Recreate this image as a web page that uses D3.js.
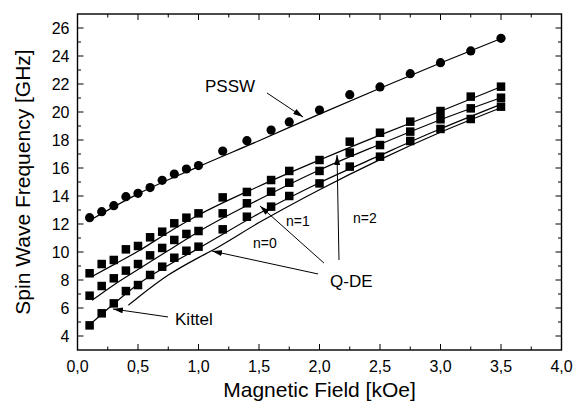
<!DOCTYPE html>
<html>
<head>
<meta charset="utf-8">
<script src="https://cdn.jsdelivr.net/npm/d3@7"></script>
<style>
  html, body { margin: 0; padding: 0; background: #fff; }
  svg text { font-family: "Liberation Sans", Arial, Helvetica, sans-serif; fill: #000; }
</style>
</head>
<body>
<svg id="chart" width="585" height="403"></svg>
<script>
// measured points (field in kOe, frequency in GHz)
const fields = [0.1, 0.2, 0.3, 0.4, 0.5, 0.6, 0.7, 0.8, 0.9, 1.0, 1.2, 1.4, 1.6, 1.75, 2.0, 2.25, 2.5, 2.75, 3.0, 3.25, 3.5];
const psswPts = [12.45, 12.88, 13.31, 13.95, 14.19, 14.6, 15.12, 15.57, 15.93, 16.17, 17.21, 17.95, 18.71, 19.29, 20.14, 21.24, 21.79, 22.74, 23.52, 24.36, 25.26];
const sqTop = [8.48, 9.14, 9.43, 10.19, 10.43, 11.05, 11.45, 12.05, 12.45, 12.76, 13.9, 14.29, 15.14, 15.79, 16.57, 17.88, 18.52, 19.31, 20.07, 21.1, 21.81];
const sqMid = [6.88, 7.57, 8.12, 8.67, 9.14, 9.76, 10.29, 10.86, 11.29, 11.5, 12.76, 13.48, 14.31, 14.95, 15.79, 17.1, 17.64, 18.6, 19.48, 20.26, 21.02];
const sqLow = [4.76, 5.62, 6.33, 7.21, 7.64, 8.36, 8.95, 9.59, 10.09, 10.38, 11.62, 12.52, 13.24, 14.0, 14.9, 16.1, 16.81, 17.93, 18.79, 19.5, 20.38];

// fitted curves as [field, GHz]
const fitPssw = [[0.1, 12.25], [0.5, 14.15], [1.0, 16.1], [1.5, 17.95], [2.0, 19.85], [2.5, 21.7], [3.0, 23.5], [3.5, 25.25]];
const fitN2 = [[0.12, 8.25], [0.3, 9.1], [0.5, 10.05], [0.75, 11.4], [1.0, 12.64], [1.5, 14.7], [2.0, 16.57], [2.5, 18.35], [3.0, 20.05], [3.5, 21.8]];
const fitN1 = [[0.12, 6.55], [0.3, 7.65], [0.5, 8.75], [0.75, 10.1], [1.0, 11.45], [1.5, 13.75], [2.0, 15.86], [2.5, 17.7], [3.0, 19.45], [3.5, 21.02]];
const fitKittel = [[0.1, 4.8], [0.2, 5.55], [0.3, 6.3], [0.5, 7.7], [0.75, 9.05], [1.0, 10.26], [1.5, 12.75], [2.0, 14.95], [2.5, 16.9], [3.0, 18.8], [3.5, 20.55]];
const fitN0 = [[0.42, 6.2], [0.5, 6.75], [0.75, 8.35], [1.0, 9.6], [1.1, 10.05], [1.5, 12.1], [2.0, 14.45], [2.5, 16.6], [3.0, 18.55], [3.5, 20.3]];

const xTicks = [0, 0.5, 1, 1.5, 2, 2.5, 3, 3.5, 4];
const yTicks = [4, 6, 8, 10, 12, 14, 16, 18, 20, 22, 24, 26];

// labels and arrows, in data coordinates
const labels = [
  { t: "PSSW", x: 1.054, y: 21.43, size: 17 },
  { t: "Kittel", x: 0.806, y: 4.79, size: 17 },
  { t: "Q-DE", x: 2.087, y: 7.5, size: 17 },
  { t: "n=0", x: 1.45, y: 10.29, size: 14 },
  { t: "n=1", x: 1.723, y: 11.86, size: 14 },
  { t: "n=2", x: 2.277, y: 12.07, size: 14 }
];
const arrows = [
  [[1.566, 21.36], [1.864, 19.64]],
  [[0.748, 5.36], [0.293, 5.93]],
  [[1.988, 8.43], [1.112, 10.07]],
  [[2.037, 9.21], [1.508, 13.29]],
  [[2.161, 9.43], [2.145, 16.93]]
];

const svg = d3.select("#chart");
const M = { top: 14, right: 23.5, bottom: 53, left: 77.5 };
const W = 585, H = 403;
const x = d3.scaleLinear().domain([0, 4]).range([M.left, W - M.right]);
const y = d3.scaleLinear().domain([3, 27]).range([H - M.bottom, M.top]);

const defs = svg.append("defs");
defs.append("marker").attr("id", "head").attr("viewBox", "0 0 10 6")
  .attr("refX", 10).attr("refY", 3).attr("markerWidth", 10).attr("markerHeight", 6)
  .attr("markerUnits", "userSpaceOnUse").attr("orient", "auto")
  .append("path").attr("d", "M0,0 L10,3 L0,6 Z").attr("fill", "#000");

// ticks, all pointing inward
const g = svg.append("g");
const minorX = d3.range(0.25, 4, 0.5);
const minorY = d3.range(5, 27, 2);
const MAJ = 6, MIN = 3.5;
function vTicks(vals, len) {
  vals.forEach(v => {
    g.append("line").attr("x1", x(v)).attr("x2", x(v)).attr("y1", y(3)).attr("y2", y(3) - len).attr("stroke", "#000");
    g.append("line").attr("x1", x(v)).attr("x2", x(v)).attr("y1", y(27)).attr("y2", y(27) + len).attr("stroke", "#000");
  });
}
function hTicks(vals, len) {
  vals.forEach(v => {
    g.append("line").attr("y1", y(v)).attr("y2", y(v)).attr("x1", x(0)).attr("x2", x(0) + len).attr("stroke", "#000");
    g.append("line").attr("y1", y(v)).attr("y2", y(v)).attr("x1", x(4)).attr("x2", x(4) - len).attr("stroke", "#000");
  });
}
vTicks(xTicks, MAJ); vTicks(minorX, MIN);
hTicks(yTicks, MAJ); hTicks(minorY, MIN);

g.append("rect").attr("x", x(0)).attr("y", y(27)).attr("width", x(4) - x(0)).attr("height", y(3) - y(27))
  .attr("fill", "none").attr("stroke", "#000").attr("stroke-width", 1.4);

const fmt = d3.format(".1f");
g.selectAll(".xl").data(xTicks).join("text").attr("class", "xl")
  .attr("x", d => x(d)).attr("y", 372).attr("text-anchor", "middle").style("font-size", "16px")
  .text(d => fmt(d).replace(".", ","));
g.selectAll(".yl").data(yTicks).join("text").attr("class", "yl")
  .attr("x", 69.5).attr("y", d => y(d) + 5.6).attr("text-anchor", "end").style("font-size", "16px")
  .text(d => d);

svg.append("text").attr("x", (x(0) + x(4)) / 2).attr("y", 397).attr("text-anchor", "middle")
  .style("font-size", "21px").text("Magnetic Field [kOe]");
svg.append("text").attr("transform", `translate(30,${(y(3) + y(27)) / 2}) rotate(-90)`).attr("text-anchor", "middle")
  .style("font-size", "21px").text("Spin Wave Frequency [GHz]");

// fit curves
const line = d3.line().x(d => x(d[0])).y(d => y(d[1])).curve(d3.curveMonotoneX);
[fitPssw, fitN2, fitN1, fitKittel, fitN0].forEach(f => {
  svg.append("path").attr("d", line(f)).attr("fill", "none").attr("stroke", "#000").attr("stroke-width", 1.2);
});

// markers
const S = 8.5;
[sqTop, sqMid, sqLow].forEach(s => {
  svg.append("g").selectAll("rect").data(s).join("rect")
    .attr("x", (d, i) => x(fields[i]) - S / 2).attr("y", d => y(d) - S / 2)
    .attr("width", S).attr("height", S).attr("fill", "#000");
});
svg.append("g").selectAll("circle").data(psswPts).join("circle")
  .attr("cx", (d, i) => x(fields[i])).attr("cy", d => y(d)).attr("r", 4.6).attr("fill", "#000");

// annotations
arrows.forEach(a => {
  svg.append("line").attr("x1", x(a[0][0])).attr("y1", y(a[0][1])).attr("x2", x(a[1][0])).attr("y2", y(a[1][1]))
    .attr("stroke", "#000").attr("stroke-width", 1).attr("marker-end", "url(#head)");
});
labels.forEach(l => {
  svg.append("text").attr("x", x(l.x)).attr("y", y(l.y)).style("font-size", l.size + "px").text(l.t);
});
</script>
</body>
</html>
